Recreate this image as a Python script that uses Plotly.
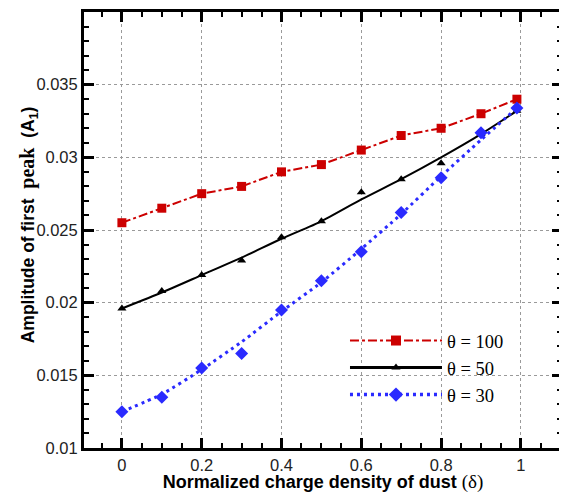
import plotly.graph_objects as go

# ---- data ----
delta = [0, 0.1, 0.2, 0.3, 0.4, 0.5, 0.6, 0.7, 0.8, 0.9, 0.99]

amp_theta100 = [0.0255, 0.0265, 0.0275, 0.0280, 0.0290, 0.0295, 0.0305, 0.0315, 0.0320, 0.0330, 0.0340]
amp_theta50 = [0.0196, 0.0208, 0.0219, 0.0229, 0.0245, 0.0256, 0.0276, 0.0285, 0.0296, 0.0316, 0.0332]
amp_theta30 = [0.0125, 0.0135, 0.0155, 0.0165, 0.0195, 0.0215, 0.0235, 0.0262, 0.0286, 0.0317, 0.0334]

# fitted curves drawn through the points
fit_theta50 = [0.0196, 0.0207, 0.0219, 0.0231, 0.0244, 0.0256, 0.0271, 0.0285, 0.0300, 0.0316, 0.0332]
fit_theta30 = [0.0125, 0.0137, 0.0154, 0.0173, 0.0194, 0.0214, 0.0237, 0.0261, 0.0287, 0.0312, 0.0334]

series_names = ["\u03b8 = 100", "\u03b8 = 50", "\u03b8 = 30"]

x_tickvals = [0, 0.2, 0.4, 0.6, 0.8, 1]
x_ticktext = ["0", "0.2", "0.4", "0.6", "0.8", "1"]
y_tickvals = [0.01, 0.015, 0.02, 0.025, 0.03, 0.035, 0.04]
y_ticktext = ["0.01", "0.015", "0.02", "0.025", "0.03", "0.035", "0.04"]

x_title = "<b>Normalized charge density of dust</b> <span style=\"font-family:'Liberation Serif',serif;font-size:19px\">(\u03b4)</span>"
y_title = "<b>Amplitude of first</b>  <b><span style=\"font-family:'Liberation Serif',serif;font-size:20px\">peak</span></b>  <b>(A<sub>1</sub>)</b>"

RED = "#cc0000"
BLACK = "#000000"
BLUE = "#2a2aff"
SANS = "Liberation Sans, Arial, sans-serif"

fig = go.Figure()

# red: dash-dot line through squares
fig.add_trace(go.Scatter(x=delta, y=amp_theta100, mode="lines+markers",
                         line=dict(color=RED, width=2, dash="9px,3px,3px,3px"),
                         marker=dict(symbol="square", size=9, color=RED),
                         showlegend=False))
# black: fitted curve + triangles
fig.add_trace(go.Scatter(x=delta, y=fit_theta50, mode="lines",
                         line=dict(color=BLACK, width=2, shape="spline", smoothing=0.6),
                         showlegend=False))
fig.add_trace(go.Scatter(x=delta, y=amp_theta50, mode="markers",
                         marker=dict(symbol="triangle-up", size=8, color=BLACK),
                         showlegend=False))
# blue: dotted fitted curve + diamonds
fig.add_trace(go.Scatter(x=delta, y=fit_theta30, mode="lines",
                         line=dict(color=BLUE, width=3, dash="3px,4px", shape="spline", smoothing=0.6),
                         showlegend=False))
fig.add_trace(go.Scatter(x=delta, y=amp_theta30, mode="markers",
                         marker=dict(symbol="diamond", size=10, color=BLUE),
                         showlegend=False))

# legend entries
leg_styles = [
    dict(line=dict(color=RED, width=2, dash="9px,3px,3px,3px"), marker=dict(symbol="square", size=10, color=RED)),
    dict(line=dict(color=BLACK, width=3), marker=dict(symbol="triangle-up", size=8, color=BLACK)),
    dict(line=dict(color=BLUE, width=3.5, dash="3px,4px"), marker=dict(symbol="diamond", size=11, color=BLUE)),
]
for name, st in zip(series_names, leg_styles):
    fig.add_trace(go.Scatter(x=[None], y=[None], mode="lines+markers", name=name,
                             line=st["line"], marker=st["marker"], showlegend=True))

axis_common = dict(
    showline=True, linewidth=3, linecolor="black", mirror="ticks",
    ticks="inside", ticklen=10, tickwidth=2.5, tickcolor="black",
    showgrid=True, gridcolor="#9a9a9a", gridwidth=1, griddash="dot",
    zeroline=False, automargin=False,
    tickfont=dict(family=SANS, size=16.5, color="#222"),
)

fig.update_xaxes(
    range=[-0.095, 1.103], tickmode="array", tickvals=x_tickvals, ticktext=x_ticktext,
    minor=dict(dtick=0.05, ticks="inside", ticklen=5, tickwidth=1.5, tickcolor="black", showgrid=False),
    title=dict(text=x_title, font=dict(family=SANS, size=18, color="black"), standoff=0),
    **axis_common)
fig.update_yaxes(
    range=[0.01, 0.04], tickmode="array", tickvals=y_tickvals, ticktext=y_ticktext,
    minor=dict(dtick=0.001, tick0=0.01, ticks="inside", ticklen=5, tickwidth=1.5, tickcolor="black", showgrid=False),
    **axis_common)

fig.add_annotation(text=y_title, xref="paper", yref="paper", x=-0.117, y=0.511,
                   xanchor="center", yanchor="middle", textangle=-90, showarrow=False,
                   font=dict(family=SANS, size=17.5, color="black"))

# the page body adds an 8px margin, so the figure is 8px smaller and shifted
fig.update_layout(
    width=559, height=485,
    margin=dict(l=76, r=5, t=4, b=45),
    paper_bgcolor="white", plot_bgcolor="white",
    legend=dict(x=0.546, y=0.289, xanchor="left", yanchor="top", bgcolor="rgba(0,0,0,0)",
                itemwidth=92, tracegroupgap=0,
                font=dict(family="Liberation Serif, Times New Roman, serif", size=18.5, color="black")),
)

fig.write_html("out.html")
